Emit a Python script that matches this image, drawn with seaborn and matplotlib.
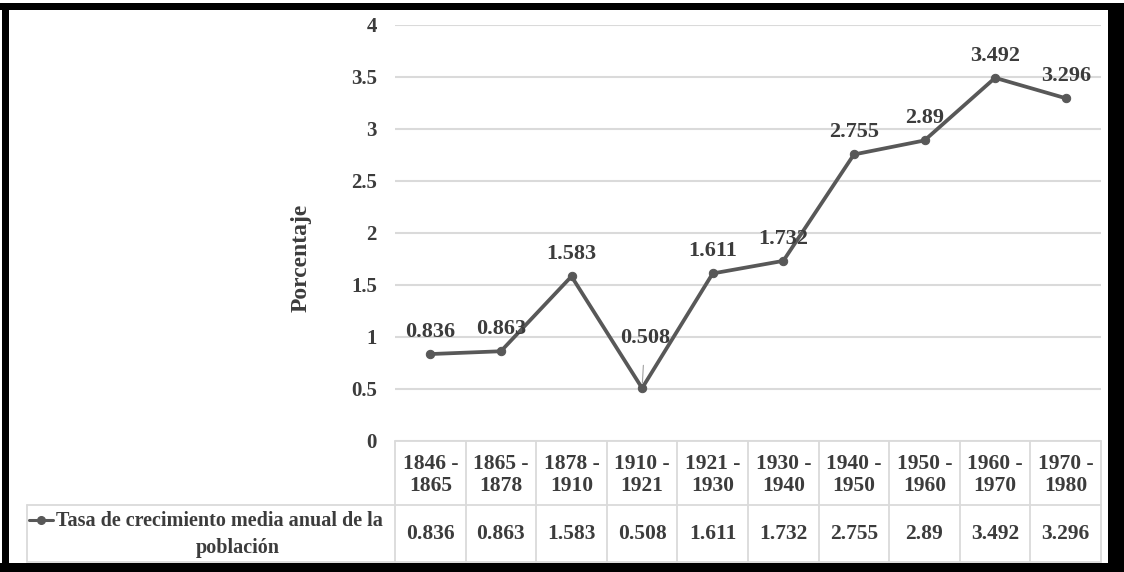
import matplotlib
matplotlib.use("Agg")
import matplotlib.pyplot as plt
import matplotlib.transforms as mtransforms
from matplotlib.patches import Rectangle
from matplotlib.lines import Line2D
import pandas as pd
import seaborn as sns

periods = ["1846 -\n1865", "1865 -\n1878", "1878 -\n1910", "1910 -\n1921", "1921 -\n1930",
           "1930 -\n1940", "1940 -\n1950", "1950 -\n1960", "1960 -\n1970", "1970 -\n1980"]
rates = [0.836, 0.863, 1.583, 0.508, 1.611, 1.732, 2.755, 2.89, 3.492, 3.296]
rate_labels = ["0.836", "0.863", "1.583", "0.508", "1.611", "1.732", "2.755", "2.89", "3.492", "3.296"]
series_name = "Tasa de crecimiento media anual de la"
series_name2 = "población"
y_ticks = [0, 0.5, 1, 1.5, 2, 2.5, 3, 3.5, 4]
y_tick_labels = ["0", "0.5", "1", "1.5", "2", "2.5", "3", "3.5", "4"]

sns.set_theme(style="white")
plt.rcParams["font.family"] = ["Liberation Serif", "DejaVu Serif"]
plt.rcParams["font.weight"] = "bold"

TXT = "#3c3c3c"
LINE = "#585858"
GRID = "#dadada"

W, H = 1124, 572
fig = plt.figure(figsize=(W / 100, H / 100), dpi=100)
fig.patch.set_facecolor("white")


def fx(px):
    return px / W


def fy(py):
    return 1 - py / H


# plot area in pixels: x 395..1101, y 25..441
ax = fig.add_axes([fx(395), fy(441), fx(1101) - fx(395), (441 - 25) / H])

df = pd.DataFrame({"periodo": periods, "tasa": rates})
sns.lineplot(data=df, x="periodo", y="tasa", ax=ax, color=LINE, linewidth=2.7,
             marker="o", markersize=6, markeredgecolor=LINE, sort=False)

ax.set_xlim(-0.5, len(periods) - 0.5)
ax.set_ylim(0, 4)
ax.set_yticks(y_ticks)
ax.set_yticklabels(y_tick_labels, fontsize=15, fontweight="bold", color=TXT)
ax.set_xticks([])
ax.set_xlabel("")
ax.set_ylabel("Porcentaje", fontsize=17, fontweight="bold", color=TXT)
ax.yaxis.set_label_coords(-0.118, 0.44)
ax.tick_params(axis="y", length=0, pad=13)
ax.yaxis.grid(True, color=GRID, linewidth=1.5)
for s in ax.spines.values():
    s.set_visible(False)

# data labels above points
for i, (v, lab) in enumerate(zip(rates, rate_labels)):
    if lab == "0.508":
        ax.annotate(lab, (i, v), xytext=(2, 36), textcoords="offset points",
                    ha="center", va="center", fontsize=16, fontweight="bold", color=TXT,
                    arrowprops=dict(arrowstyle="-", color="#a0a0a0", lw=0.8,
                                    shrinkA=10, shrinkB=4))
    else:
        ax.annotate(lab, (i, v), xytext=(0, 16), textcoords="offset points",
                    ha="center", va="center", fontsize=16, fontweight="bold", color=TXT)

# data table below the axes
bt = mtransforms.blended_transform_factory(ax.transData, fig.transFigure)
tbl_top, tbl_mid, tbl_bot = 441, 505, 562
left_px = 27

fig.add_artist(Line2D([fx(395), fx(1101)], [fy(tbl_top)] * 2, color=GRID, lw=1.3))
for y in (tbl_mid, tbl_bot):
    fig.add_artist(Line2D([fx(left_px), fx(1101)], [fy(y)] * 2, color=GRID, lw=1.3))
fig.add_artist(Line2D([fx(left_px)] * 2, [fy(tbl_mid), fy(tbl_bot)], color=GRID, lw=1.3))
for k in range(len(periods) + 1):
    fig.add_artist(Line2D([k - 0.5] * 2, [fy(tbl_top), fy(tbl_bot)], color=GRID, lw=1.3,
                          transform=bt))

for i, (p, lab) in enumerate(zip(periods, rate_labels)):
    fig.text(i, fy(475), p, transform=bt, ha="center", va="center", fontsize=15.5,
             fontweight="bold", color=TXT, linespacing=1.1)
    fig.text(i, fy(534), lab, transform=bt, ha="center", va="center", fontsize=15.5,
             fontweight="bold", color=TXT)

# legend key and series name
fig.add_artist(Line2D([fx(29), fx(53)], [fy(520)] * 2, color=LINE, lw=2.2))
fig.add_artist(Line2D([fx(41)], [fy(520)], color=LINE, marker="o", markersize=5.5,
                      linestyle="none"))
fig.text(fx(56), fy(521), series_name, ha="left", va="center", fontsize=14.5,
         fontweight="bold", color=TXT)
fig.text(fx(238), fy(548), series_name2, ha="center", va="center", fontsize=14.5,
         fontweight="bold", color=TXT)

# thick black frame
for x0, y0, w, h in [(0, 3, W, 7), (2, 3, 7, 569), (1108, 3, 16, 569), (0, 563, W, 9)]:
    fig.add_artist(Rectangle((fx(x0), fy(y0 + h)), w / W, h / H, transform=fig.transFigure,
                             facecolor="black", edgecolor="none"))

fig.savefig("out.png", dpi=100)
